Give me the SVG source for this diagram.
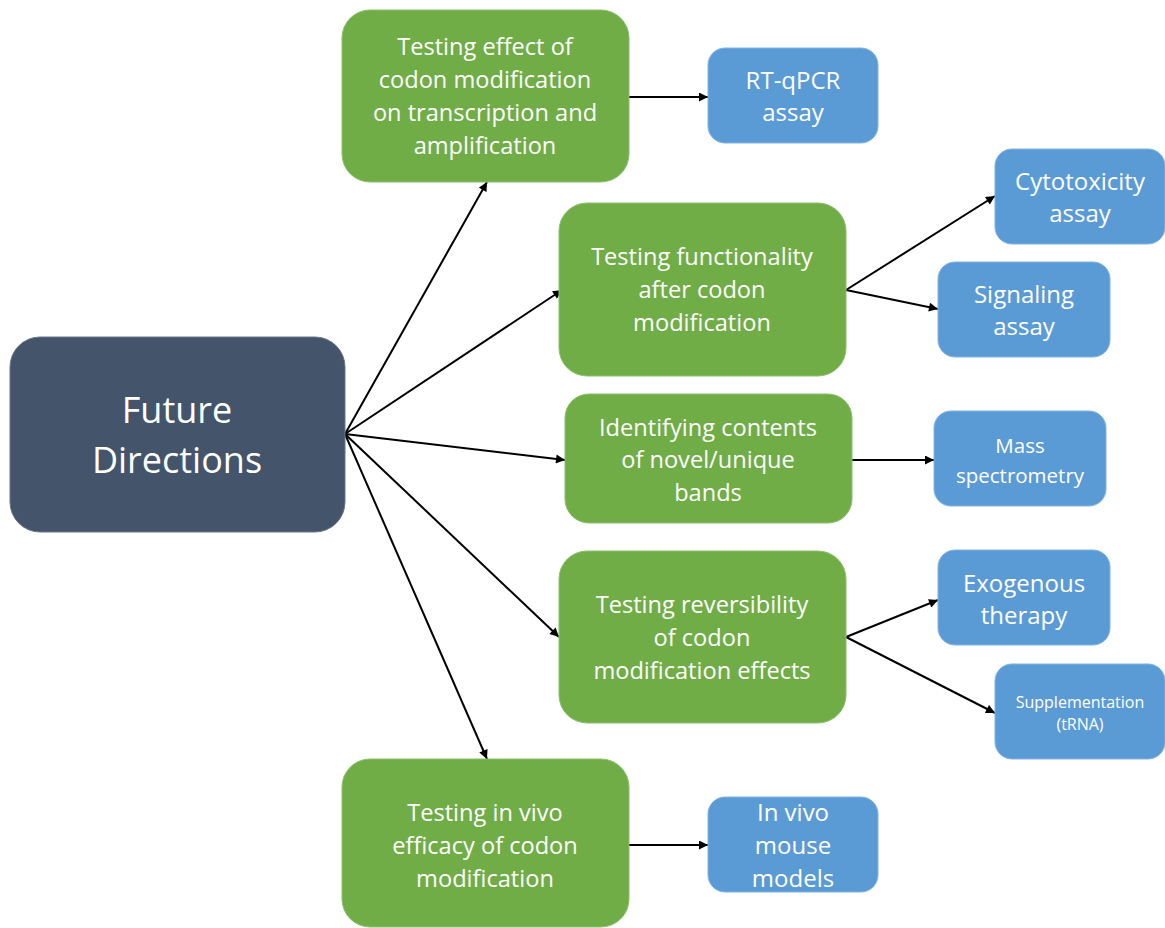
<svg xmlns="http://www.w3.org/2000/svg" width="1165" height="928" viewBox="0 0 1165 928">
<style>
.g{fill:#70AD47;stroke:#8cbf6c;stroke-width:1}
.b{fill:#5B9BD5;stroke:#82b3e0;stroke-width:1}
.d{fill:#44546A;stroke:#6a7789;stroke-width:1}
text{font-family:"Open Sans","Noto Sans",sans-serif;fill:#fff;text-anchor:middle}
.t{font-size:23.6px}
.u{font-size:24px}
.c line{stroke:#000;stroke-width:2;marker-end:url(#ah)}
</style>
<defs>
<marker id="ah" viewBox="0 0 10 10" refX="10" refY="5" markerWidth="10" markerHeight="9" markerUnits="userSpaceOnUse" orient="auto">
<path d="M0,0 L10,5 L0,10 z" fill="#000"/>
</marker>
</defs>
<rect width="1165" height="928" fill="#fff"/>
<g id="connectors" class="c">
<line x1="345" y1="434" x2="487" y2="182"/>
<line x1="345" y1="434" x2="562" y2="290"/>
<line x1="345" y1="434" x2="565" y2="460"/>
<line x1="345" y1="434" x2="559" y2="637"/>
<line x1="345" y1="434" x2="487" y2="759"/>
<line x1="629" y1="97" x2="708" y2="97"/>
<line x1="846" y1="290" x2="995" y2="196"/>
<line x1="846" y1="290" x2="938" y2="309"/>
<line x1="852" y1="460" x2="934" y2="460"/>
<line x1="846" y1="637" x2="938" y2="600"/>
<line x1="846" y1="637" x2="995" y2="713"/>
<line x1="629" y1="845" x2="708" y2="845"/>
</g>
<g id="future">
<rect class="d" x="10" y="337" width="335" height="195" rx="30"/>
<text x="177" y="423" font-size="36">Future</text>
<text x="177" y="473" font-size="36">Directions</text>
</g>
<g id="g1">
<rect class="g" x="342" y="10" width="287" height="172" rx="28"/>
<text class="t" x="485" y="55">Testing effect of</text>
<text class="t" x="485" y="88">codon modification</text>
<text class="t" x="485" y="121">on transcription and</text>
<text class="t" x="485" y="154">amplification</text>
</g>
<g id="b1">
<rect class="b" x="708" y="48" width="170" height="95" rx="17"/>
<text class="u" x="793" y="89">RT-qPCR</text>
<text class="u" x="793" y="121">assay</text>
</g>
<g id="g2">
<rect class="g" x="559" y="203" width="287" height="173" rx="28"/>
<text class="t" x="702" y="265">Testing functionality</text>
<text class="t" x="702" y="298">after codon</text>
<text class="t" x="702" y="331">modification</text>
</g>
<g id="b2">
<rect class="b" x="995" y="149" width="170" height="95" rx="17"/>
<text class="u" x="1080" y="190">Cytotoxicity</text>
<text class="u" x="1080" y="222">assay</text>
</g>
<g id="b3">
<rect class="b" x="938" y="262" width="172" height="95" rx="17"/>
<text class="u" x="1024" y="303">Signaling</text>
<text class="u" x="1024" y="335">assay</text>
</g>
<g id="g3">
<rect class="g" x="565" y="394" width="287" height="129" rx="24"/>
<text class="t" x="708" y="436">Identifying contents</text>
<text class="t" x="708" y="468">of novel/unique</text>
<text class="t" x="708" y="501">bands</text>
</g>
<g id="b4">
<rect class="b" x="934" y="411" width="172" height="95" rx="17"/>
<text x="1020" y="453" font-size="20.5">Mass</text>
<text x="1020" y="483" font-size="20.5">spectrometry</text>
</g>
<g id="g4">
<rect class="g" x="559" y="551" width="287" height="172" rx="28"/>
<text class="t" x="702" y="613">Testing reversibility</text>
<text class="t" x="702" y="646">of codon</text>
<text class="t" x="702" y="679">modification effects</text>
</g>
<g id="b5">
<rect class="b" x="938" y="550" width="172" height="95" rx="17"/>
<text class="u" x="1024" y="592">Exogenous</text>
<text class="u" x="1024" y="624">therapy</text>
</g>
<g id="b6">
<rect class="b" x="995" y="664" width="170" height="95" rx="17"/>
<text x="1080" y="708" font-size="16">Supplementation</text>
<text x="1080" y="730" font-size="16">(tRNA)</text>
</g>
<g id="g5">
<rect class="g" x="342" y="759" width="287" height="168" rx="28"/>
<text class="t" x="485" y="821">Testing in vivo</text>
<text class="t" x="485" y="854">efficacy of codon</text>
<text class="t" x="485" y="887">modification</text>
</g>
<g id="b7">
<rect class="b" x="708" y="797" width="170" height="95" rx="17"/>
<text class="u" x="793" y="821">In vivo</text>
<text class="u" x="793" y="854">mouse</text>
<text class="u" x="793" y="887">models</text>
</g>
</svg>
